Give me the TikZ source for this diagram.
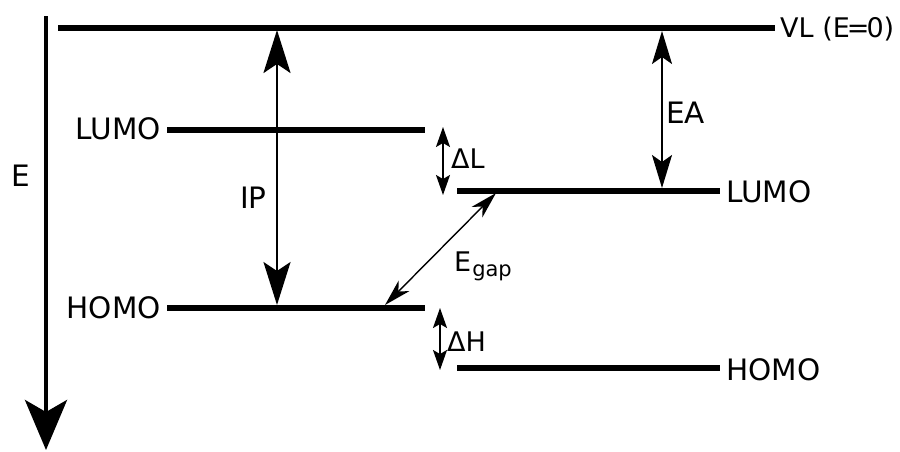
\documentclass[tikz,border=0pt]{standalone}
\usepackage{fontspec}
\setmainfont{DejaVu Sans}
\usetikzlibrary{arrows.meta}
\tikzset{
  level/.style={line width=6pt},
  lbl/.style={font=\fontsize{29.5}{31}\selectfont, inner sep=0pt},
  slbl/.style={font=\fontsize{27}{29}\selectfont, inner sep=0pt},
  vlbl/.style={font=\fontsize{27}{29}\selectfont, inner sep=0pt},
  bigarrow/.style={line width=2.3pt, {Stealth[length=43pt,width=27pt,inset=9pt]}-{Stealth[length=43pt,width=27pt,inset=9pt]}},
  midarrow/.style={line width=1.8pt, {Stealth[length=33pt,width=20pt,inset=7pt]}-{Stealth[length=33pt,width=20pt,inset=7pt]}},
  smallarrow/.style={line width=1.5pt, {Stealth[length=20pt,width=14pt,inset=4pt]}-{Stealth[length=20pt,width=14pt,inset=4pt]}},
  gaparrow/.style={line width=1.4pt, {Stealth[length=27pt,width=15pt,inset=8pt]}-{Stealth[length=27pt,width=15pt,inset=8pt]}},
}
\begin{document}
\begin{tikzpicture}[x=1pt,y=-1pt]
\useasboundingbox[fill=white] (0,0) rectangle (900,451);
% energy axis
\coordinate (axTop) at (46,16);
\coordinate (axBot) at (46,450);
\draw[line width=4.5pt, -{Stealth[length=50pt,width=42pt,inset=12pt]}] (axTop) -- (axBot);
\node[lbl, anchor=base west] (E) at (11,186) {E};
% levels
\coordinate (vlA) at (58,27.5);   \coordinate (vlB) at (775,27.5);
\coordinate (luLA) at (167,130);  \coordinate (luLB) at (425,130);
\coordinate (hoLA) at (167,308);  \coordinate (hoLB) at (425,308);
\coordinate (luRA) at (457,191);  \coordinate (luRB) at (720,191);
\coordinate (hoRA) at (457,368);  \coordinate (hoRB) at (720,368);
\draw[level] (vlA) -- (vlB);
\draw[level] (luLA) -- (luLB);
\draw[level] (hoLA) -- (hoLB);
\draw[level] (luRA) -- (luRB);
\draw[level] (hoRA) -- (hoRB);
% level labels
\node[vlbl, anchor=base west] (vl) at (780,37) {VL (E\kern-3pt=\kern-3pt0)};
\node[lbl, anchor=base east] (luL) at (161,139) {LUMO};
\node[lbl, anchor=base east] (hoL) at (161,318) {HOMO};
\node[lbl, anchor=base west] (luR) at (726,202) {LUMO};
\node[lbl, anchor=base west] (hoR) at (726,380) {HOMO};
% IP
\coordinate (ipT) at (277,30);
\coordinate (ipB) at (277,305);
\draw[bigarrow] (ipT) -- (ipB);
\node[lbl, anchor=base west] (ip) at (240,208) {IP};
% EA
\coordinate (eaT) at (662,31);
\coordinate (eaB) at (662,188);
\draw[midarrow] (eaT) -- (eaB);
\node[lbl, anchor=base west] (ea) at (666,123) {EA};
% Delta L
\coordinate (dlT) at (443,127);
\coordinate (dlB) at (443,195);
\draw[smallarrow] (dlT) -- (dlB);
\node[slbl, anchor=base west] (dl) at (451,168) {ΔL};
% Delta H
\coordinate (dhT) at (440,308);
\coordinate (dhB) at (440,370);
\draw[smallarrow] (dhT) -- (dhB);
\node[slbl, anchor=base west] (dh) at (447,351) {ΔH};
% E gap
\coordinate (gT) at (496,193);
\coordinate (gB) at (385,305);
\draw[gaparrow] (gT) -- (gB);
\node[slbl, anchor=base west] (eg) at (454,271) {E\kern1pt\raisebox{-5pt}{\fontsize{21}{23}\selectfont gap}};
\end{tikzpicture}
\end{document}
